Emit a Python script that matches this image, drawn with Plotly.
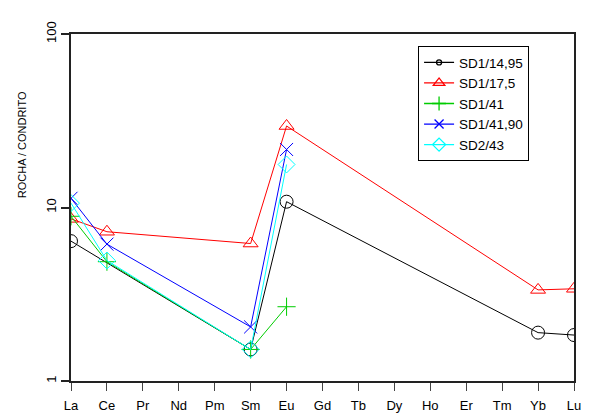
import plotly.graph_objects as go

elements = ["La", "Ce", "Pr", "Nd", "Pm", "Sm", "Eu", "Gd", "Tb", "Dy", "Ho", "Er", "Tm", "Yb", "Lu"]

s1_x = ["La", "Sm", "Eu", "Yb", "Lu"]
s1_y = [6.4, 1.52, 10.8, 1.9, 1.84]

s2_x = ["La", "Ce", "Sm", "Eu", "Yb", "Lu"]
s2_y = [8.6, 7.25, 6.2, 29.5, 3.35, 3.4]

s3_x = ["La", "Ce", "Sm", "Eu"]
s3_y = [8.9, 4.87, 1.52, 2.68]

s4_x = ["La", "Ce", "Sm", "Eu"]
s4_y = [11.3, 6.15, 2.05, 21.6]

s5_x = ["La", "Ce", "Sm", "Eu"]
s5_y = [10.6, 4.95, 1.52, 17.7]

series = [
    ("SD1/14,95", s1_x, s1_y, "black", "circle-open", 5),
    ("SD1/17,5", s2_x, s2_y, "#ff0000", "triangle-up-open", 10),
    ("SD1/41", s3_x, s3_y, "#00cc00", "cross-thin-open", 10),
    ("SD1/41,90", s4_x, s4_y, "#0000ff", "x-thin-open", 9),
    ("SD2/43", s5_x, s5_y, "#00ffff", "diamond-open", 10),
]

fig = go.Figure()
for name, xs, ys, col, sym, lsize in series:
    fig.add_trace(go.Scatter(
        x=xs, y=ys, name=name, mode="lines+markers", showlegend=False,
        line=dict(color=col, width=1),
        marker=dict(symbol=sym, size=13, color=col, line=dict(color=col, width=1)),
    ))
for name, xs, ys, col, sym, lsize in series:
    fig.add_trace(go.Scatter(
        x=[None], y=[None], name=name, mode="lines+markers", showlegend=True,
        line=dict(color=col, width=1.3),
        marker=dict(symbol=sym, size=lsize, color=col, line=dict(color=col, width=1.3)),
    ))

# page body has an 8px default margin; figure is sized/margined to compensate
fig.update_layout(
    width=582, height=408,
    margin=dict(l=63, r=16, t=26, b=35, autoexpand=False),
    paper_bgcolor="white", plot_bgcolor="white",
    font=dict(family="Liberation Sans, Arial", size=13, color="black"),
    showlegend=True,
    legend=dict(
        x=0.69, y=0.965, xanchor="left", yanchor="top",
        bordercolor="black", borderwidth=1, bgcolor="white",
        font=dict(size=13.5), tracegroupgap=0,
    ),
    xaxis=dict(
        type="category", categoryorder="array", categoryarray=elements,
        range=[0, 14], showgrid=False, zeroline=False, automargin=False,
        showline=True, linecolor="#222", linewidth=1.5, mirror=True,
        ticks="outside", ticklen=8, tickcolor="#444", tickwidth=1,
        tickfont=dict(size=13), ticklabelstandoff=4,
    ),
    yaxis=dict(
        type="log", range=[0, 2], tickvals=[1, 10, 100], ticktext=["1", "10", "100"],
        tickangle=-90, showgrid=False, zeroline=False, automargin=False,
        showline=True, linecolor="#222", linewidth=1.5, mirror=True,
        ticks="outside", ticklen=8, tickcolor="#222", tickwidth=1.5,
        tickfont=dict(size=13),
    ),
    annotations=[dict(
        text="ROCHA / CONDRITO", xref="paper", yref="paper",
        x=-0.097, y=0.68, xanchor="center", yanchor="middle",
        textangle=-90, showarrow=False, font=dict(size=11),
    )],
)

fig.write_html("out.html")
